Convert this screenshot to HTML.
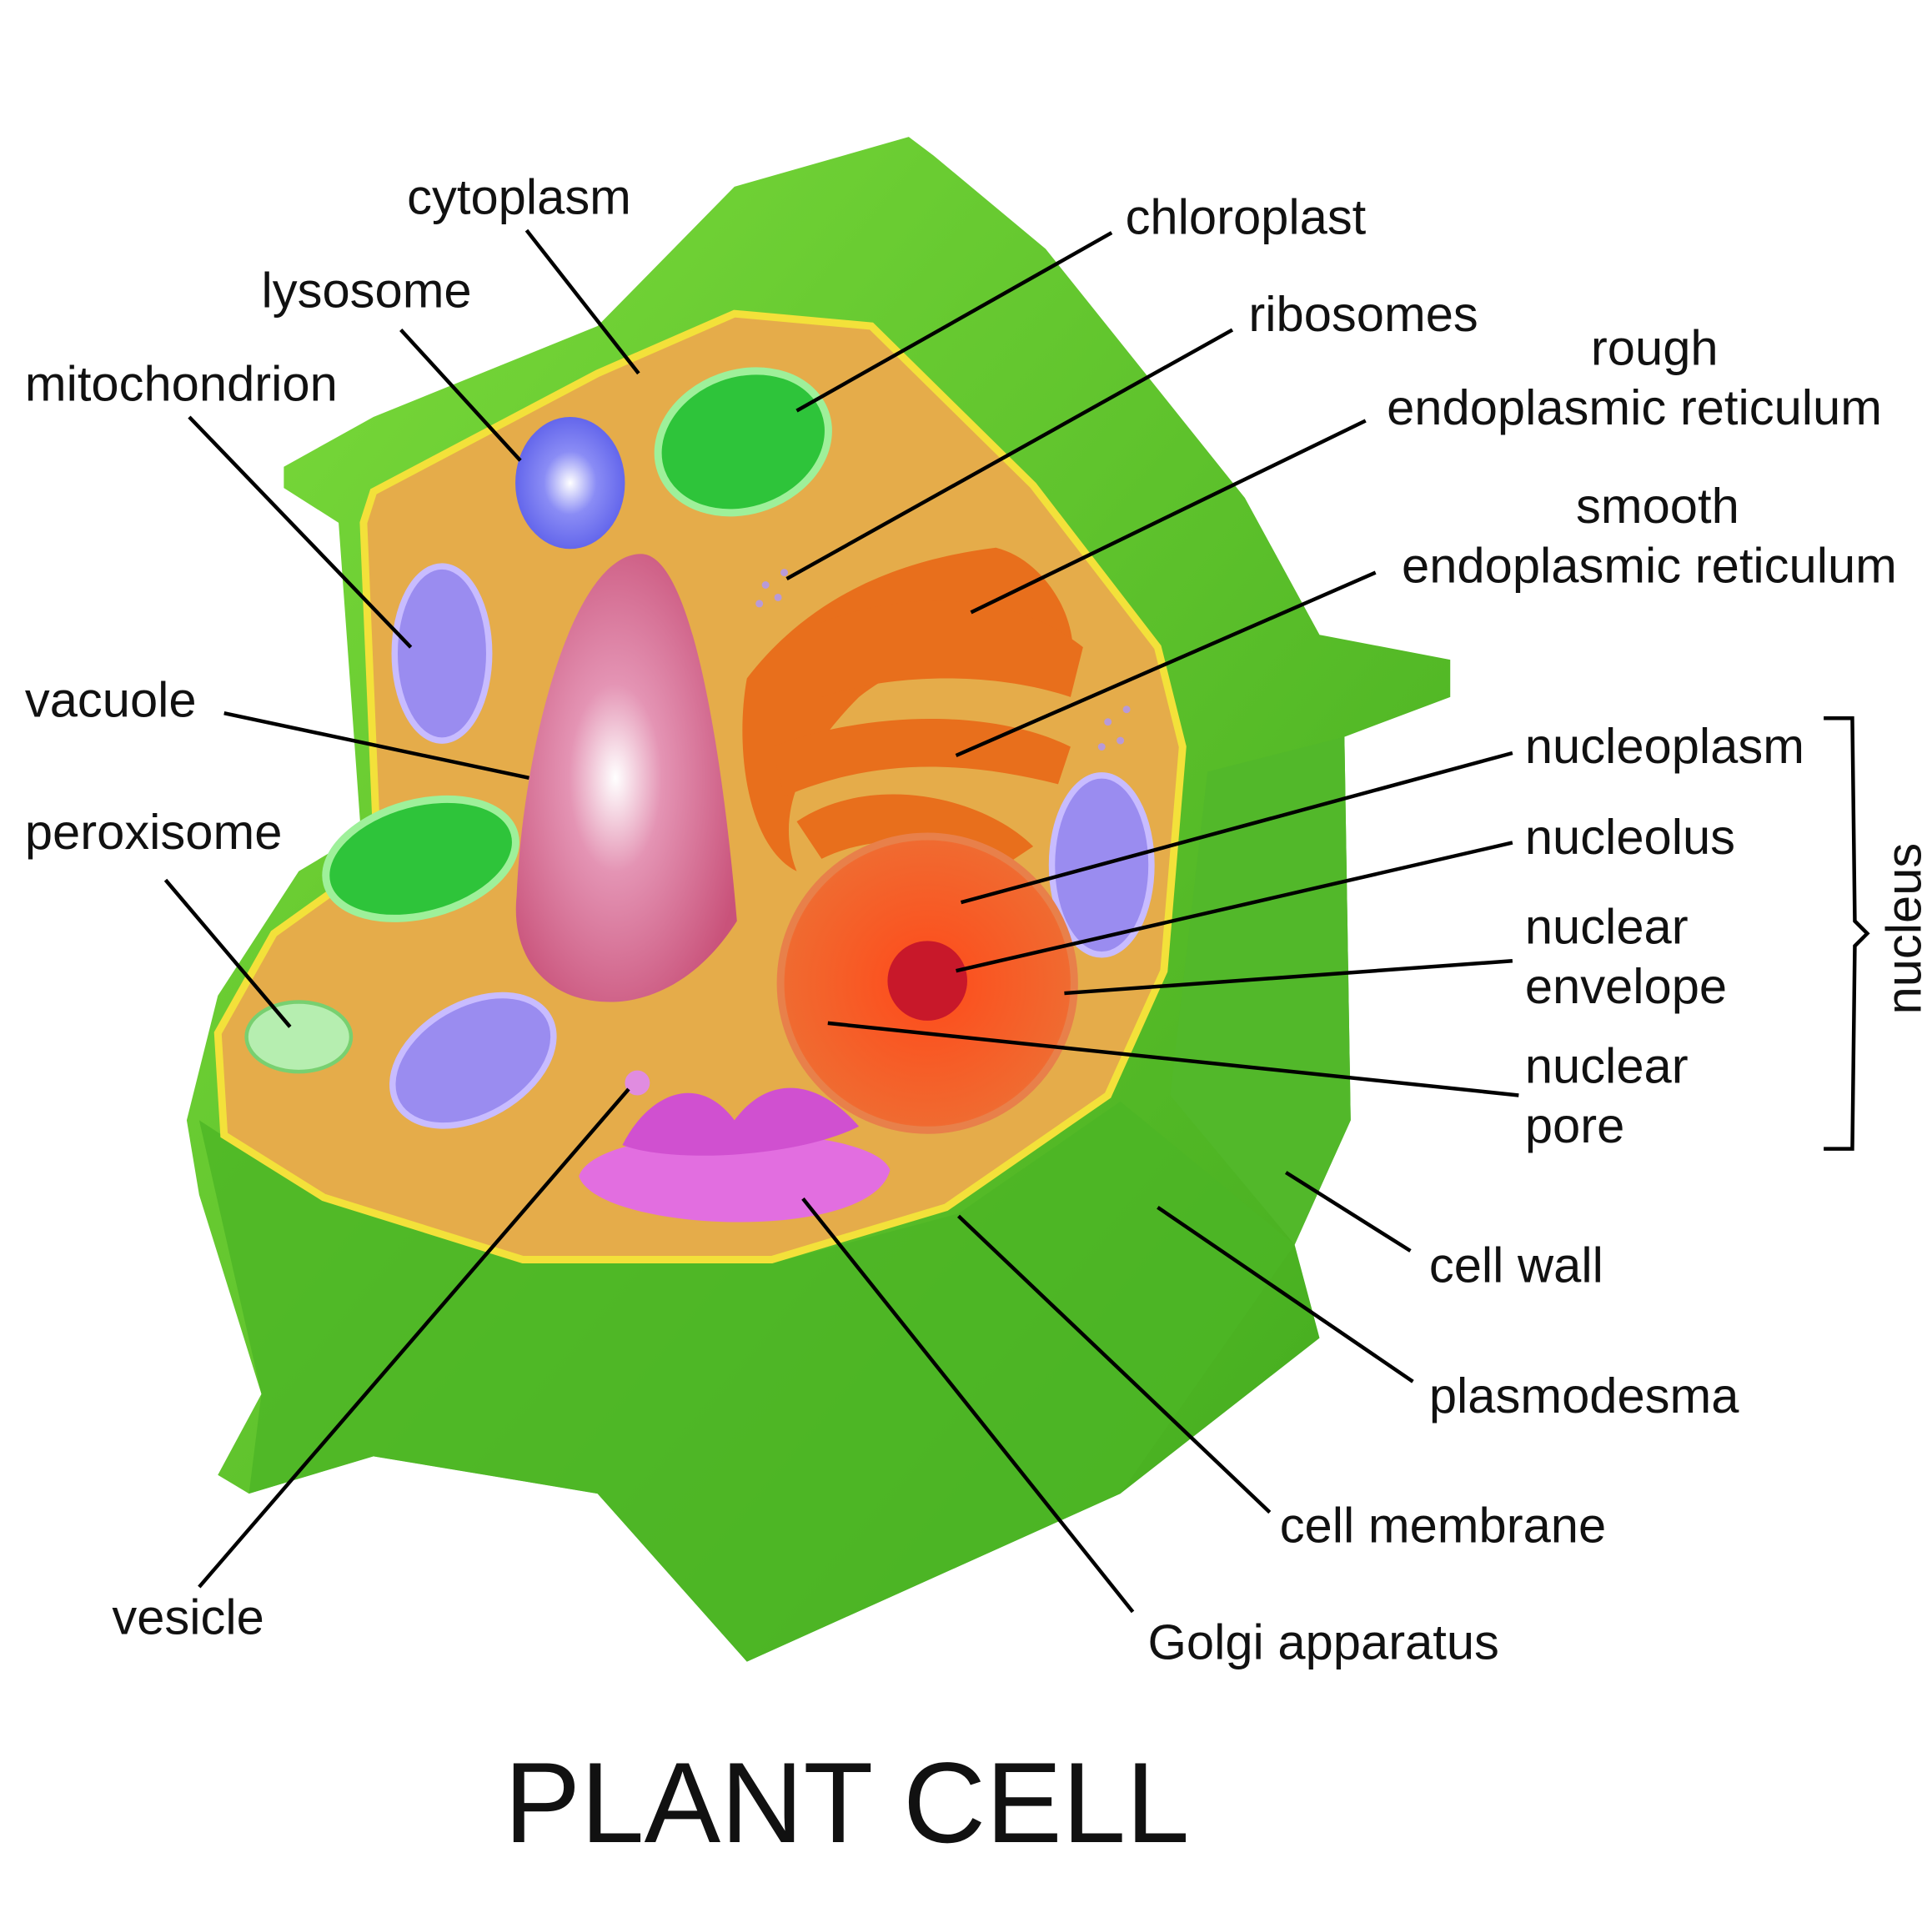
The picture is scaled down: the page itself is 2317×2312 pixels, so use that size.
<!DOCTYPE html>
<html><head><meta charset="utf-8"><style>
html,body{margin:0;padding:0;background:#fff}
svg{display:block}
text{font-family:"Liberation Sans",Arial,sans-serif;fill:#111}
</style></head><body>
<svg width="2317" height="2312" viewBox="0 0 1552 1549" preserveAspectRatio="none" xmlns="http://www.w3.org/2000/svg">
<defs>
<radialGradient id="vac" cx="0.45" cy="0.5" r="0.6"><stop offset="0" stop-color="#fff"/><stop offset="0.35" stop-color="#e494b4"/><stop offset="1" stop-color="#c9527a"/></radialGradient>
<radialGradient id="lys" cx="0.5" cy="0.5" r="0.6"><stop offset="0" stop-color="#fff"/><stop offset="0.4" stop-color="#8a8cf5"/><stop offset="1" stop-color="#5558e8"/></radialGradient>
<radialGradient id="nuc" cx="0.5" cy="0.5" r="0.6"><stop offset="0" stop-color="#ff4a1a"/><stop offset="0.8" stop-color="#f06a30"/><stop offset="1" stop-color="#e88a50"/></radialGradient>
<linearGradient id="wall" x1="0" y1="0" x2="1" y2="1"><stop offset="0" stop-color="#7ddc3c"/><stop offset="1" stop-color="#3fa81c"/></linearGradient>
</defs>
<path d="M228,375 L300,335 L480,262 L590,150 L730,110 L750,125 L840,200 L1000,400 L1060,510 L1165,530 L1165,560 L1080,592 L1085,900 L1040,1000 L1060,1075 L900,1200 L600,1335 L480,1200 L300,1170 L200,1200 L175,1185 L210,1120 L160,960 L150,900 L175,800 L240,700 L290,670 L272,420 L228,392 Z" fill="url(#wall)"/>
<path d="M160,900 L260,965 L420,1015 L620,1015 L770,975 L900,885 L1040,1000 L900,1200 L600,1335 L480,1200 L300,1170 L200,1200 L210,1120 Z" fill="#4cb526" opacity="0.8"/>
<path d="M970,620 L1080,592 L1085,900 L1040,1000 L940,880 Z" fill="#52b82a"/>
<path d="M300,395 L480,300 L590,252 L700,262 L830,390 L930,520 L950,600 L935,780 L890,880 L760,970 L620,1012 L420,1012 L260,962 L180,912 L175,830 L220,750 L290,700 L302,660 L292,420 Z" fill="#e5ac4a" stroke="#f3e13a" stroke-width="6"/>
<g fill="#e86f1c">
<path d="M600,545 C650,480 720,450 800,440 C840,450 870,500 860,540 C800,520 740,520 690,560 C650,600 620,650 640,700 C600,680 590,600 600,545 Z"/>
<path d="M660,500 C740,470 820,480 870,520 L860,560 C800,540 720,540 660,560 Z"/>
<path d="M620,600 C700,570 800,570 860,600 L850,630 C770,610 700,610 630,640 Z"/>
<path d="M640,660 C700,620 790,640 830,680 L800,700 C760,670 700,670 660,690 Z"/>
</g>
<g fill="#b89ad8"><circle cx="615" cy="470" r="3"/><circle cx="625" cy="480" r="3"/><circle cx="610" cy="485" r="3"/><circle cx="630" cy="460" r="3"/><circle cx="890" cy="580" r="3"/><circle cx="900" cy="595" r="3"/><circle cx="885" cy="600" r="3"/><circle cx="905" cy="570" r="3"/></g>
<path d="M515,445 C555,445 580,600 592,740 C560,790 520,805 490,805 C440,805 410,770 415,720 C420,600 460,445 515,445 Z" fill="url(#vac)"/>
<ellipse cx="458" cy="388" rx="44" ry="53" fill="url(#lys)"/>
<ellipse cx="597" cy="355" rx="70" ry="55" transform="rotate(-20 597 355)" fill="#2ec43a" stroke="#9ef09a" stroke-width="6"/>
<ellipse cx="338" cy="690" rx="78" ry="45" transform="rotate(-15 338 690)" fill="#2ec43a" stroke="#9ef09a" stroke-width="6"/>
<ellipse cx="355" cy="525" rx="38" ry="70" fill="#9a8cf0" stroke="#c8bcff" stroke-width="5"/>
<ellipse cx="885" cy="695" rx="40" ry="72" fill="#9a8cf0" stroke="#c8bcff" stroke-width="5"/>
<ellipse cx="380" cy="852" rx="70" ry="45" transform="rotate(-30 380 852)" fill="#9a8cf0" stroke="#c8bcff" stroke-width="5"/>
<ellipse cx="240" cy="833" rx="42" ry="28" fill="#b6eeb0" stroke="#78d070" stroke-width="3"/>
<circle cx="745" cy="790" r="118" fill="url(#nuc)" stroke="#e8804a" stroke-width="6"/>
<circle cx="745" cy="788" r="32" fill="#c8182a"/>
<path d="M465,945 C480,990 700,1000 715,940 C700,900 480,900 465,945 Z" fill="#e26ee0"/>
<path d="M500,920 C520,880 560,860 590,900 C620,860 660,870 690,905 C640,930 540,935 500,920 Z" fill="#d050d0"/>
<circle cx="512" cy="870" r="10" fill="#e08ce0"/>
<g stroke="#000" stroke-width="3" fill="none">
<line x1="423" y1="185" x2="513" y2="300"/>
<line x1="322" y1="265" x2="418" y2="370"/>
<line x1="152" y1="335" x2="330" y2="520"/>
<line x1="180" y1="573" x2="425" y2="625"/>
<line x1="133" y1="707" x2="233" y2="825"/>
<line x1="160" y1="1275" x2="505" y2="875"/>
<line x1="893" y1="187" x2="640" y2="330"/>
<line x1="990" y1="265" x2="632" y2="465"/>
<line x1="1097" y1="338" x2="780" y2="492"/>
<line x1="1105" y1="460" x2="768" y2="607"/>
<line x1="1215" y1="605" x2="772" y2="725"/>
<line x1="1215" y1="677" x2="768" y2="780"/>
<line x1="1215" y1="772" x2="855" y2="798"/>
<line x1="1220" y1="880" x2="665" y2="822"/>
<line x1="1133" y1="1005" x2="1033" y2="942"/>
<line x1="1135" y1="1110" x2="930" y2="970"/>
<line x1="1020" y1="1215" x2="770" y2="977"/>
<line x1="910" y1="1295" x2="645" y2="963"/>
<path d="M1465,577 L1488,577 L1490,740 L1500,750 L1490,760 L1488,923 L1465,923"/>
</g>
<g font-size="40">
<text x="327" y="172">cytoplasm</text>
<text x="210" y="247">lysosome</text>
<text x="20" y="322">mitochondrion</text>
<text x="20" y="576">vacuole</text>
<text x="20" y="682">peroxisome</text>
<text x="90" y="1313">vesicle</text>
<text x="904" y="188">chloroplast</text>
<text x="1003" y="266">ribosomes</text>
<text x="1278" y="293">rough</text>
<text x="1114" y="341">endoplasmic reticulum</text>
<text x="1266" y="420">smooth</text>
<text x="1126" y="468">endoplasmic reticulum</text>
<text x="1225" y="613">nucleoplasm</text>
<text x="1225" y="686">nucleolus</text>
<text x="1225" y="758">nuclear</text>
<text x="1225" y="806">envelope</text>
<text x="1225" y="870">nuclear</text>
<text x="1225" y="918">pore</text>
<text x="1148" y="1030">cell wall</text>
<text x="1148" y="1135">plasmodesma</text>
<text x="1028" y="1239">cell membrane</text>
<text x="922" y="1333">Golgi apparatus</text>
<text transform="translate(1543,815) rotate(-90)">nucleus</text>
</g>
<text x="405" y="1480" font-size="92">PLANT CELL</text>
</svg>
</body></html>
